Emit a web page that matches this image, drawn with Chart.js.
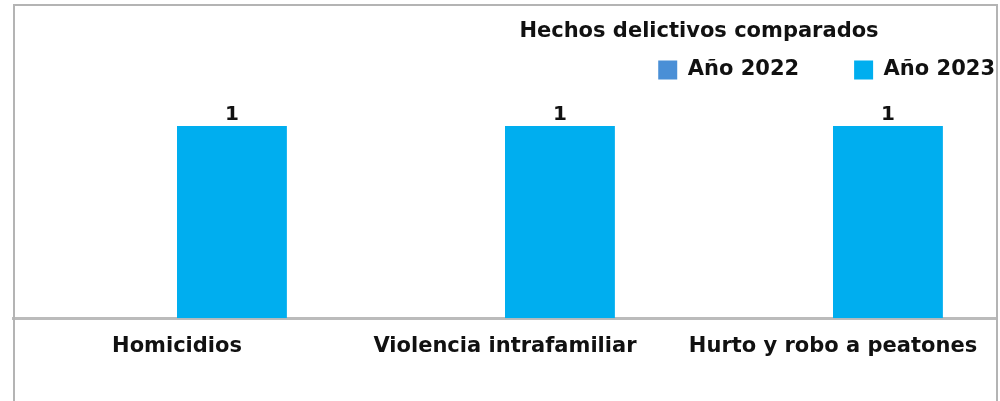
<!DOCTYPE html>
<html>
<head>
<meta charset="UTF-8">
<title>Hechos delictivos comparados</title>
<script src="https://cdn.jsdelivr.net/npm/chart.js@4.4.0/dist/chart.umd.min.js"></script>
<style>
  body { margin: 0; background: #fff; }
  #wrap { position: relative; width: 1000px; height: 401px; overflow: hidden; }
  #frame { position: absolute; left: 13px; top: 4px; width: 985px; height: 430px; box-sizing: border-box;
           border: 2px solid #b4b4b4; border-bottom: none; pointer-events: none; }
  canvas { position: absolute; left: 0; top: 0; }
</style>
</head>
<body>
<div id="wrap">
  <canvas id="myChart" width="1050" height="401"></canvas>
  <div id="frame"></div>
</div>
<script>
const titulo = 'Hechos delictivos comparados';
const categorias = ['Homicidios', 'Violencia intrafamiliar', 'Hurto y robo a peatones'];
const anios = ['Año 2022', 'Año 2023'];
const valores2022 = [0, 0, 0];
const valores2023 = [1, 1, 1];
const colores = ['#4a8fd6', '#00aeef'];

const fuente = { family: 'DejaVu Sans', weight: 'bold', size: 21 };

// titulo del grafico, va a la derecha como en el original
const tituloPlugin = {
  id: 'tituloPlugin',
  afterDraw(chart) {
    const ctx = chart.ctx;
    ctx.save();
    ctx.font = 'bold 21px "DejaVu Sans"';
    ctx.fillStyle = '#111';
    ctx.textAlign = 'center';
    ctx.textBaseline = 'middle';
    ctx.fillText(titulo, 699, 32);
    ctx.restore();
  }
};

// numero encima de cada barra
const etiquetasValor = {
  id: 'etiquetasValor',
  afterDatasetsDraw(chart) {
    const ctx = chart.ctx;
    ctx.save();
    ctx.font = 'bold 20px "DejaVu Sans"';
    ctx.fillStyle = '#111';
    ctx.textAlign = 'center';
    ctx.textBaseline = 'alphabetic';
    chart.data.datasets.forEach((ds, i) => {
      chart.getDatasetMeta(i).data.forEach((bar, j) => {
        if (!ds.data[j]) return;
        ctx.fillText(ds.data[j], bar.x, bar.y - 6);
      });
    });
    ctx.restore();
  }
};

new Chart('myChart', {
  type: 'bar',
  data: {
    labels: categorias,
    datasets: [
      { label: anios[0], data: valores2022, backgroundColor: colores[0], borderWidth: 0 },
      { label: anios[1], data: valores2023, backgroundColor: colores[1], borderWidth: 0 }
    ]
  },
  options: {
    responsive: false,
    animation: false,
    categoryPercentage: 0.67,
    barPercentage: 1,
    layout: { padding: { left: 13, top: 4.5, right: 0, bottom: 26.5 } },
    plugins: {
      legend: {
        align: 'end',
        labels: { font: fuente, color: '#111', boxWidth: 19, boxHeight: 19, padding: 55 }
      },
      tooltip: { enabled: false }
    },
    scales: {
      x: {
        grid: { display: false, drawTicks: false },
        border: { color: '#bbbbbb', width: 3 },
        ticks: { font: fuente, color: '#111', padding: 15.5, maxRotation: 0 }
      },
      y: {
        position: 'right',
        min: 0,
        max: 1.185,
        grid: { display: false },
        border: { display: false },
        ticks: { display: false },
        afterFit(scale) { scale.width = 53; }
      }
    }
  },
  plugins: [tituloPlugin, etiquetasValor]
});
</script>
</body>
</html>
